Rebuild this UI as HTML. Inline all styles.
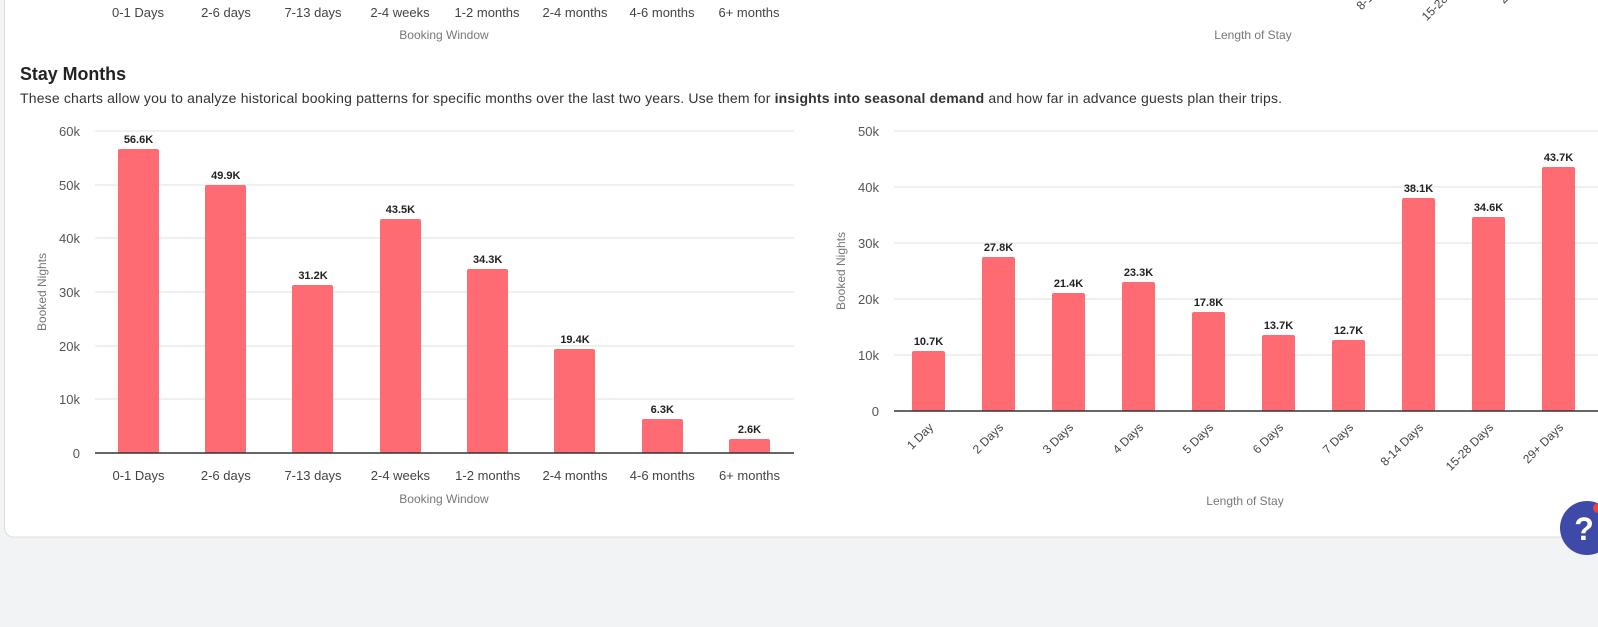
<!DOCTYPE html>
<html><head><meta charset="utf-8"><style>
body{margin:0;background:#f2f3f5;}
svg{display:block;font-family:"Liberation Sans",sans-serif;}
</style></head><body>
<svg width="1598" height="627" viewBox="0 0 1598 627">
<rect x="0" y="0" width="1598" height="627" fill="#f2f3f5"/>
<rect x="4.5" y="-20" width="1620" height="557" rx="9" fill="#fff" stroke="#dcdcdc"/>
<g font-size="13" fill="#444" text-anchor="middle">
<text x="138" y="17">0-1 Days</text><text x="226" y="17">2-6 days</text><text x="313" y="17">7-13 days</text><text x="400" y="17">2-4 weeks</text><text x="487" y="17">1-2 months</text><text x="575" y="17">2-4 months</text><text x="662" y="17">4-6 months</text><text x="749" y="17">6+ months</text>
</g>
<text x="444" y="39" font-size="12" fill="#777" text-anchor="middle">Booking Window</text>
<text x="1253" y="39" font-size="12" fill="#777" text-anchor="middle">Length of Stay</text>
<g font-size="12" fill="#444" text-anchor="end">
<text transform="translate(1400,-28) rotate(-45)">8-14 Days</text>
<text transform="translate(1470,-22) rotate(-45)">15-28 Days</text>
<text transform="translate(1540,-32) rotate(-45)">29+ Days</text>
</g>
<text x="20" y="80" font-size="18" font-weight="bold" fill="#222" textLength="106" lengthAdjust="spacingAndGlyphs">Stay Months</text>
<text x="20" y="103" font-size="14" fill="#333" textLength="1262">These charts allow you to analyze historical booking patterns for specific months over the last two years. Use them for <tspan font-weight="bold">insights into seasonal demand</tspan> and how far in advance guests plan their trips.</text>

<!-- left chart -->
<g stroke="#e2e2e2" stroke-width="1">
<line x1="95" x2="794" y1="131" y2="131"/><line x1="95" x2="794" y1="185" y2="185"/><line x1="95" x2="794" y1="238" y2="238"/><line x1="95" x2="794" y1="292" y2="292"/><line x1="95" x2="794" y1="346" y2="346"/><line x1="95" x2="794" y1="399" y2="399"/>
</g>
<g font-size="13" fill="#555" text-anchor="end">
<text x="80" y="136">60k</text><text x="80" y="190">50k</text><text x="80" y="243">40k</text><text x="80" y="297">30k</text><text x="80" y="351">20k</text><text x="80" y="404">10k</text><text x="80" y="458">0</text>
</g>
<text transform="translate(46,292) rotate(-90)" font-size="12" fill="#777" text-anchor="middle">Booked Nights</text>
<g fill="#ff6b72">
<rect x="118" y="149" width="41" height="304" rx="2"/>
<rect x="205" y="185" width="41" height="268" rx="2"/>
<rect x="292" y="285" width="41" height="168" rx="2"/>
<rect x="380" y="219" width="41" height="234" rx="2"/>
<rect x="467" y="269" width="41" height="184" rx="2"/>
<rect x="554" y="349" width="41" height="104" rx="2"/>
<rect x="642" y="419" width="41" height="34" rx="2"/>
<rect x="729" y="439" width="41" height="14" rx="2"/>
</g>
<g font-size="11" font-weight="bold" fill="#222" text-anchor="middle">
<text x="138.5" y="143">56.6K</text><text x="225.8" y="179">49.9K</text><text x="313" y="279">31.2K</text><text x="400.4" y="213">43.5K</text><text x="487.7" y="263">34.3K</text><text x="575" y="343">19.4K</text><text x="662.3" y="413">6.3K</text><text x="749.5" y="433">2.6K</text>
</g>
<line x1="95" x2="794" y1="453" y2="453" stroke="#333" stroke-width="1.5"/>
<g font-size="13" fill="#444" text-anchor="middle">
<text x="138.5" y="480">0-1 Days</text><text x="225.8" y="480">2-6 days</text><text x="313" y="480">7-13 days</text><text x="400.4" y="480">2-4 weeks</text><text x="487.7" y="480">1-2 months</text><text x="575" y="480">2-4 months</text><text x="662.3" y="480">4-6 months</text><text x="749.5" y="480">6+ months</text>
</g>
<text x="444" y="503" font-size="12" fill="#777" text-anchor="middle">Booking Window</text>

<!-- right chart -->
<g stroke="#e2e2e2" stroke-width="1">
<line x1="894" x2="1598" y1="131" y2="131"/><line x1="894" x2="1598" y1="187" y2="187"/><line x1="894" x2="1598" y1="243" y2="243"/><line x1="894" x2="1598" y1="299" y2="299"/><line x1="894" x2="1598" y1="355" y2="355"/>
</g>
<g font-size="13" fill="#555" text-anchor="end">
<text x="879" y="136">50k</text><text x="879" y="192">40k</text><text x="879" y="248">30k</text><text x="879" y="304">20k</text><text x="879" y="360">10k</text><text x="879" y="416">0</text>
</g>
<text transform="translate(845,271) rotate(-90)" font-size="12" fill="#777" text-anchor="middle">Booked Nights</text>
<g fill="#ff6b72">
<rect x="912" y="351" width="33" height="60" rx="2"/>
<rect x="982" y="257" width="33" height="154" rx="2"/>
<rect x="1052" y="293" width="33" height="118" rx="2"/>
<rect x="1122" y="282" width="33" height="129" rx="2"/>
<rect x="1192" y="312" width="33" height="99" rx="2"/>
<rect x="1262" y="335" width="33" height="76" rx="2"/>
<rect x="1332" y="340" width="33" height="71" rx="2"/>
<rect x="1402" y="198" width="33" height="213" rx="2"/>
<rect x="1472" y="217" width="33" height="194" rx="2"/>
<rect x="1542" y="167" width="33" height="244" rx="2"/>
</g>
<g font-size="11" font-weight="bold" fill="#222" text-anchor="middle">
<text x="928.5" y="345">10.7K</text><text x="998.5" y="251">27.8K</text><text x="1068.5" y="287">21.4K</text><text x="1138.5" y="276">23.3K</text><text x="1208.5" y="306">17.8K</text><text x="1278.5" y="329">13.7K</text><text x="1348.5" y="334">12.7K</text><text x="1418.5" y="192">38.1K</text><text x="1488.5" y="211">34.6K</text><text x="1558.5" y="161">43.7K</text>
</g>
<line x1="894" x2="1598" y1="411" y2="411" stroke="#333" stroke-width="1.5"/>
<g font-size="12" fill="#444" text-anchor="end">
<text transform="translate(934,428) rotate(-45)">1 Day</text>
<text transform="translate(1004,428) rotate(-45)">2 Days</text>
<text transform="translate(1074,428) rotate(-45)">3 Days</text>
<text transform="translate(1144,428) rotate(-45)">4 Days</text>
<text transform="translate(1214,428) rotate(-45)">5 Days</text>
<text transform="translate(1284,428) rotate(-45)">6 Days</text>
<text transform="translate(1354,428) rotate(-45)">7 Days</text>
<text transform="translate(1424,428) rotate(-45)">8-14 Days</text>
<text transform="translate(1494,428) rotate(-45)">15-28 Days</text>
<text transform="translate(1564,428) rotate(-45)">29+ Days</text>
</g>
<text x="1245" y="505" font-size="12" fill="#777" text-anchor="middle">Length of Stay</text>

<circle cx="1587" cy="528" r="27" fill="#3f4aa8"/>
<circle cx="1598" cy="508" r="5" fill="#e8453c"/>
<text x="1584" y="540" font-size="32" font-weight="bold" fill="#fff" text-anchor="middle">?</text>
</svg>
</body></html>
